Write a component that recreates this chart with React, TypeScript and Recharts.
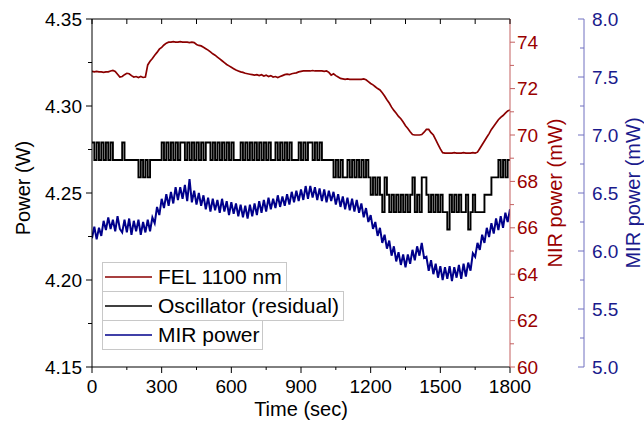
import { LineChart, Line, XAxis, YAxis, Legend } from 'recharts'

const FONT = '"Liberation Sans", Arial, Helvetica, sans-serif'
const RED = '#8b0000'
const RED_TEXT = '#990000'
const RED_AXIS = '#c46060'
const NAVY = '#00008b'
const NAVY_TEXT = '#1a1a8c'
const NAVY_AXIS = '#7070c0'

// sampled every 10 s
const TIME = Array.from({ length: 181 }, (_, i) => i * 10)

// FEL 1100 nm, NIR power (mW)
const FEL = [
  72.74, 72.72, 72.74, 72.72, 72.72, 72.70, 72.72, 72.72, 72.76, 72.78,
  72.74, 72.62, 72.50, 72.52, 72.60, 72.66, 72.64, 72.56, 72.50, 72.52,
  72.48, 72.52, 72.48, 72.50, 73.02, 73.18, 73.30, 73.44, 73.56, 73.70,
  73.78, 73.88, 73.96, 74.00, 74.00, 74.02, 74.00, 74.00, 74.02, 74.00,
  74.00, 74.00, 73.98, 74.00, 73.98, 73.90, 73.86, 73.84, 73.78, 73.72,
  73.66, 73.58, 73.50, 73.44, 73.36, 73.28, 73.20, 73.12, 73.04, 72.98,
  72.92, 72.86, 72.80, 72.76, 72.72, 72.70, 72.66, 72.64, 72.62, 72.60,
  72.58, 72.60, 72.56, 72.60, 72.54, 72.58, 72.52, 72.56, 72.50, 72.52,
  72.48, 72.52, 72.56, 72.60, 72.62, 72.60, 72.64, 72.66, 72.68, 72.72,
  72.74, 72.76, 72.76, 72.76, 72.76, 72.78, 72.76, 72.76, 72.76, 72.76,
  72.74, 72.76, 72.70, 72.58, 72.64, 72.56, 72.50, 72.44, 72.42, 72.40,
  72.42, 72.40, 72.40, 72.40, 72.40, 72.40, 72.40, 72.42, 72.38, 72.30,
  72.22, 72.16, 72.08, 72.00, 71.94, 71.82, 71.68, 71.52, 71.38, 71.20,
  71.06, 70.94, 70.80, 70.70, 70.56, 70.40, 70.28, 70.14, 70.02, 70.00,
  70.00, 70.00, 70.02, 70.12, 70.24, 70.24, 70.10, 70.00, 69.80, 69.60,
  69.40, 69.24, 69.22, 69.22, 69.22, 69.22, 69.24, 69.22, 69.22, 69.22,
  69.24, 69.22, 69.22, 69.22, 69.24, 69.22, 69.26, 69.42, 69.58, 69.74,
  69.90, 70.06, 70.24, 70.38, 70.52, 70.66, 70.76, 70.84, 70.94, 71.04,
  71.08,
]

// Oscillator (residual), Power (W)
const OSC = [
  4.279, 4.269, 4.279, 4.269, 4.279, 4.269, 4.279, 4.269, 4.279, 4.269,
  4.269, 4.269, 4.269, 4.279, 4.269, 4.269, 4.269, 4.269, 4.269, 4.269,
  4.259, 4.269, 4.259, 4.269, 4.259, 4.269, 4.269, 4.269, 4.269, 4.269,
  4.279, 4.269, 4.279, 4.269, 4.279, 4.269, 4.279, 4.269, 4.279, 4.279,
  4.269, 4.279, 4.269, 4.279, 4.269, 4.279, 4.269, 4.279, 4.269, 4.279,
  4.279, 4.269, 4.279, 4.269, 4.279, 4.269, 4.279, 4.269, 4.279, 4.269,
  4.279, 4.269, 4.269, 4.269, 4.279, 4.269, 4.279, 4.269, 4.279, 4.269,
  4.279, 4.269, 4.279, 4.269, 4.279, 4.269, 4.279, 4.269, 4.269, 4.279,
  4.269, 4.279, 4.269, 4.279, 4.269, 4.279, 4.269, 4.269, 4.269, 4.279,
  4.269, 4.279, 4.269, 4.279, 4.279, 4.269, 4.279, 4.269, 4.279, 4.269,
  4.269, 4.269, 4.269, 4.269, 4.259, 4.269, 4.259, 4.269, 4.259, 4.259,
  4.269, 4.259, 4.269, 4.259, 4.269, 4.259, 4.269, 4.259, 4.269, 4.259,
  4.249, 4.259, 4.249, 4.259, 4.249, 4.239, 4.259, 4.249, 4.239, 4.249,
  4.239, 4.249, 4.239, 4.249, 4.239, 4.249, 4.239, 4.249, 4.259, 4.239,
  4.249, 4.239, 4.259, 4.259, 4.249, 4.239, 4.249, 4.239, 4.249, 4.239,
  4.249, 4.239, 4.239, 4.229, 4.249, 4.239, 4.249, 4.239, 4.249, 4.239,
  4.239, 4.249, 4.229, 4.239, 4.249, 4.239, 4.239, 4.239, 4.239, 4.249,
  4.249, 4.249, 4.259, 4.259, 4.259, 4.269, 4.259, 4.269, 4.259, 4.269,
  4.269,
]

// MIR power (mW)
const MIR = [
  6.11, 6.21, 6.10, 6.20, 6.13, 6.26, 6.18, 6.29, 6.19, 6.27,
  6.17, 6.30, 6.19, 6.16, 6.27, 6.16, 6.28, 6.14, 6.26, 6.17,
  6.27, 6.14, 6.25, 6.16, 6.27, 6.17, 6.29, 6.24, 6.38, 6.31,
  6.45, 6.37, 6.49, 6.39, 6.51, 6.41, 6.55, 6.44, 6.55, 6.45,
  6.57, 6.43, 6.62, 6.42, 6.52, 6.40, 6.50, 6.39, 6.48, 6.36,
  6.46, 6.34, 6.45, 6.35, 6.44, 6.33, 6.45, 6.34, 6.43, 6.31,
  6.42, 6.32, 6.41, 6.30, 6.40, 6.29, 6.39, 6.28, 6.40, 6.30,
  6.41, 6.31, 6.43, 6.33, 6.44, 6.34, 6.46, 6.36, 6.45, 6.37,
  6.48, 6.38, 6.47, 6.39, 6.49, 6.40, 6.51, 6.42, 6.52, 6.43,
  6.53, 6.44, 6.56, 6.45, 6.56, 6.46, 6.55, 6.44, 6.54, 6.43,
  6.53, 6.42, 6.52, 6.43, 6.51, 6.40, 6.49, 6.38, 6.47, 6.36,
  6.46, 6.35, 6.45, 6.34, 6.44, 6.33, 6.41, 6.29, 6.37, 6.25,
  6.31, 6.19, 6.25, 6.13, 6.20, 6.07, 6.14, 6.02, 6.09, 5.96,
  6.04, 5.91, 5.99, 5.88, 5.97, 5.86, 5.97, 5.89, 6.01, 5.92,
  6.04, 5.96, 6.07, 5.94, 5.95, 5.83, 5.92, 5.80, 5.89, 5.77,
  5.87, 5.75, 5.86, 5.76, 5.87, 5.74, 5.86, 5.77, 5.88, 5.76,
  5.89, 5.78, 5.90, 5.83, 5.98, 5.95, 6.07, 6.01, 6.14, 6.07,
  6.20, 6.12, 6.24, 6.15, 6.28, 6.18, 6.30, 6.20, 6.33, 6.25,
  6.36,
]

const SERIES = ['FEL 1100 nm', 'Oscillator (residual)', 'MIR power']

const X_TICKS = [0, 150, 300, 450, 600, 750, 900, 1050, 1200, 1350, 1500, 1650, 1800]
const W_TICKS = [4.15, 4.175, 4.2, 4.225, 4.25, 4.275, 4.3, 4.325, 4.35]
const NIR_TICKS = [60, 61, 62, 63, 64, 65, 66, 67, 68, 69, 70, 71, 72, 73, 74]
const MIR_TICKS = [5, 5.25, 5.5, 5.75, 6, 6.25, 6.5, 6.75, 7, 7.25, 7.5, 7.75, 8]

const data = TIME.map((t, i) => ({ t, fel: FEL[i], osc: OSC[i], mir: MIR[i] }))

const isMult = (v: number, step: number) => Math.abs(v / step - Math.round(v / step)) < 1e-6

// eslint-disable-next-line @typescript-eslint/no-explicit-any
const BottomTick = ({ x, y, payload }: any) => {
  const major = isMult(payload.value, 300)
  return (
    <g>
      <line x1={x} x2={x} y1={y} y2={y + (major ? 6 : 3)} stroke="#000" />
      {major && (
        <text x={x} y={y + 19} textAnchor="middle" dominantBaseline="central" fontSize={19} fill="#000" fontFamily={FONT}>
          {payload.value}
        </text>
      )}
    </g>
  )
}

// eslint-disable-next-line @typescript-eslint/no-explicit-any
const TopTick = ({ x, y }: any) => <line x1={x} x2={x} y1={y} y2={y + 5} stroke="#000" />

// eslint-disable-next-line @typescript-eslint/no-explicit-any
const LeftTick = ({ x, y, payload }: any) => {
  const major = isMult(payload.value, 0.05)
  return (
    <g>
      <line x1={x - (major ? 6 : 4)} x2={x} y1={y} y2={y} stroke="#000" />
      {major && (
        <text x={x - 10} y={y} textAnchor="end" dominantBaseline="central" fontSize={19} fill="#000" fontFamily={FONT}>
          {payload.value.toFixed(2)}
        </text>
      )}
    </g>
  )
}

// eslint-disable-next-line @typescript-eslint/no-explicit-any
const NirTick = ({ x, y, payload }: any) => {
  const major = isMult(payload.value, 2)
  return (
    <g>
      <line x1={x} x2={x + (major ? 5 : 4)} y1={y} y2={y} stroke={RED_AXIS} />
      {major && (
        <text x={x + 7} y={y} textAnchor="start" dominantBaseline="central" fontSize={19} fill={RED_TEXT} fontFamily={FONT}>
          {payload.value}
        </text>
      )}
    </g>
  )
}

// eslint-disable-next-line @typescript-eslint/no-explicit-any
const MirTick = ({ x, y, payload }: any) => {
  const major = isMult(payload.value, 0.5)
  return (
    <g>
      <line x1={x - (major ? 6 : 4)} x2={x} y1={y} y2={y} stroke={NAVY_AXIS} />
      {major && (
        <text x={x + 8} y={y} textAnchor="start" dominantBaseline="central" fontSize={19} fill={NAVY_TEXT} fontFamily={FONT}>
          {payload.value.toFixed(1)}
        </text>
      )}
    </g>
  )
}

const LEGEND_WIDTHS = [185, 242, 161]

// eslint-disable-next-line @typescript-eslint/no-explicit-any
const LegendBox = ({ payload }: any) => {
  // eslint-disable-next-line @typescript-eslint/no-explicit-any
  const items = SERIES.map((name) => (payload || []).find((p: any) => p.value === name)).filter(Boolean)
  return (
    <div style={{ fontFamily: FONT }}>
      {/* eslint-disable-next-line @typescript-eslint/no-explicit-any */}
      {items.map((p: any, i: number) => (
        <div
          key={p.value}
          style={{
            width: LEGEND_WIDTHS[i],
            height: 30,
            boxSizing: 'border-box',
            border: '1px solid #c8c8c8',
            marginTop: i ? -1 : 0,
            display: 'flex',
            alignItems: 'center',
            background: '#fff',
          }}
        >
          <svg width={55} height={28} style={{ flex: 'none' }}>
            <line x1={2} x2={49} y1={14} y2={14} stroke={p.color} strokeWidth={1.5} />
          </svg>
          <span style={{ fontSize: 21, lineHeight: '28px', whiteSpace: 'nowrap', color: '#000' }}>{p.value}</span>
        </div>
      ))}
    </div>
  )
}

export default function App() {
  return (
    <div style={{ position: 'absolute', left: 0, top: 0, width: 644, height: 423, background: '#fff' }}>
      <LineChart width={644} height={423} data={data} margin={{ top: 0, right: 0, bottom: 0, left: 0 }}>
        <XAxis
          dataKey="t"
          type="number"
          domain={[0, 1800]}
          ticks={X_TICKS}
          interval={0}
          height={56}
          tickSize={0}
          tickMargin={0}
          tickLine={false}
          tick={<BottomTick />}
          axisLine={{ stroke: '#000' }}
          allowDataOverflow
        />
        <XAxis
          xAxisId="top"
          orientation="top"
          dataKey="t"
          type="number"
          domain={[0, 1800]}
          ticks={X_TICKS}
          interval={0}
          height={19}
          tickSize={0}
          tickMargin={0}
          tickLine={false}
          tick={<TopTick />}
          axisLine={{ stroke: '#000' }}
          allowDataOverflow
        />
        <YAxis
          yAxisId="w"
          type="number"
          domain={[4.15, 4.35]}
          ticks={W_TICKS}
          interval={0}
          width={92}
          tickSize={0}
          tickMargin={0}
          tickLine={false}
          tick={<LeftTick />}
          axisLine={{ stroke: '#000' }}
          allowDataOverflow
        />
        <YAxis
          yAxisId="r2"
          orientation="right"
          type="number"
          domain={[5, 8]}
          ticks={MIR_TICKS}
          interval={0}
          width={60}
          tickSize={0}
          tickMargin={0}
          tickLine={false}
          tick={<MirTick />}
          axisLine={{ stroke: NAVY_AXIS }}
          allowDataOverflow
        />
        <YAxis
          yAxisId="r1"
          orientation="right"
          type="number"
          domain={[60, 75]}
          ticks={NIR_TICKS}
          interval={0}
          width={74}
          tickSize={0}
          tickMargin={0}
          tickLine={false}
          tick={<NirTick />}
          axisLine={{ stroke: RED_AXIS }}
          allowDataOverflow
        />
        <Legend
          layout="horizontal"
          verticalAlign="middle"
          align="center"
          content={<LegendBox />}
          wrapperStyle={{ left: 102, top: 262, width: 250, height: 'auto' }}
        />
        <Line
          yAxisId="r1"
          dataKey="fel"
          name={SERIES[0]}
          type="linear"
          stroke={RED}
          strokeWidth={1.7}
          dot={false}
          activeDot={false}
          isAnimationActive={false}
        />
        <Line
          yAxisId="w"
          dataKey="osc"
          name={SERIES[1]}
          type="stepAfter"
          stroke="#000"
          strokeWidth={1.9}
          dot={false}
          activeDot={false}
          isAnimationActive={false}
        />
        <Line
          yAxisId="r2"
          dataKey="mir"
          name={SERIES[2]}
          type="linear"
          stroke={NAVY}
          strokeWidth={2}
          dot={false}
          activeDot={false}
          isAnimationActive={false}
        />
      </LineChart>
      <svg
        width={644}
        height={423}
        style={{ position: 'absolute', left: 0, top: 0, pointerEvents: 'none' }}
        fontFamily={FONT}
        fontSize={20}
      >
        <text x={301} y={409} textAnchor="middle" dominantBaseline="central" fill="#000">
          Time (sec)
        </text>
        <text transform="translate(23,188) rotate(-90)" textAnchor="middle" dominantBaseline="central" fill="#000">
          Power (W)
        </text>
        <text transform="translate(555,193) rotate(-90)" textAnchor="middle" dominantBaseline="central" fill={RED_TEXT}>
          NIR power (mW)
        </text>
        <text transform="translate(633,193) rotate(-90)" textAnchor="middle" dominantBaseline="central" fill={NAVY_TEXT}>
          MIR power (mW)
        </text>
      </svg>
    </div>
  )
}
